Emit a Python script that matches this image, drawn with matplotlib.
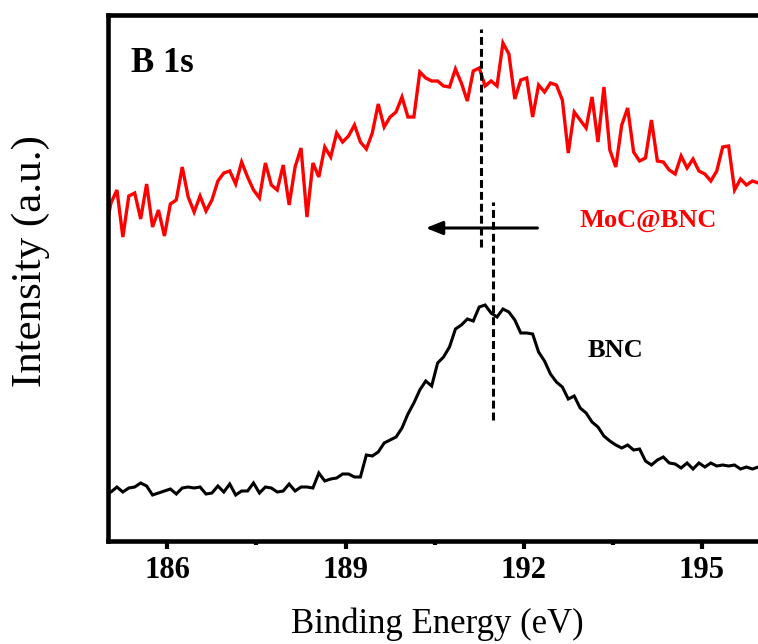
import numpy as np
import matplotlib
matplotlib.use("Agg")
import matplotlib.pyplot as plt

# ---- data ----
energy_start = 184.95
energy_step = 0.1

moc_bnc = [308, 338, 351, 304, 345, 348, 322, 357, 314, 331,
           305, 337, 341, 374, 344, 329, 345, 330, 341, 360,
           368, 370, 357, 379, 364, 351, 343, 378, 356, 351,
           376, 336, 374, 393, 324, 378, 364, 394, 384, 408,
           399, 405, 416, 399, 392, 408, 437, 414, 424, 429,
           444, 424, 424, 469, 463, 460, 460, 455, 454, 472,
           458, 440, 470, 473, 455, 460, 455, 498, 487, 442,
           461, 463, 424, 456, 449, 458, 456, 441, 388, 429,
           421, 413, 444, 399, 454, 391, 374, 416, 433, 389,
           380, 383, 421, 380, 379, 371, 367, 385, 373, 382,
           370, 367, 360, 370, 394, 395, 351, 362, 356, 360,
           358]

bnc = [48, 49, 54, 49, 53, 54, 58, 55, 46, 48,
       50, 52, 47, 53, 54, 53, 54, 47, 48, 55,
       49, 57, 46, 50, 50, 58, 48, 54, 53, 49,
       50, 57, 50, 54, 54, 53, 68, 60, 62, 63,
       67, 67, 64, 64, 86, 85, 89, 98, 101, 104,
       113, 127, 138, 151, 160, 155, 178, 184, 194, 212,
       216, 222, 220, 234, 236, 228, 224, 232, 229, 221,
       208, 208, 207, 189, 180, 167, 159, 154, 142, 145,
       133, 128, 119, 114, 105, 100, 96, 93, 96, 91,
       92, 80, 76, 81, 84, 78, 77, 73, 78, 72,
       78, 74, 78, 75, 76, 75, 76, 72, 74, 72,
       74]

xticks = [186, 189, 192, 195]
peak_moc = 191.28
peak_bnc = 191.48

x_moc = energy_start + energy_step * np.arange(len(moc_bnc))
x_bnc = energy_start + energy_step * np.arange(len(bnc))

plt.rcParams['font.family'] = ['Liberation Serif', 'DejaVu Serif']

W, H = 758, 644
fig = plt.figure(figsize=(W / 100, H / 100), dpi=100)
ax = fig.add_axes([108 / W, (H - 541) / H, (761.3 - 108) / W, (541 - 15) / H])

ax.plot(x_moc, moc_bnc, color='#ff0000', lw=2.4, solid_joinstyle='miter')
ax.plot(x_bnc, bnc, color='black', lw=2.2, solid_joinstyle='miter')

ax.plot([peak_moc, peak_moc], [294, 512], color='black', lw=2.2,
        linestyle=(0, (2.6, 1.3)))
ax.plot([peak_bnc, peak_bnc], [121, 339], color='black', lw=2.2,
        linestyle=(0, (2.6, 1.3)))
ax.annotate('', xy=(190.35, 313), xytext=(192.23, 313),
            arrowprops=dict(arrowstyle='-|>,head_length=1.0,head_width=0.4',
                            color='black', lw=2.2, shrinkA=0, shrinkB=0))

ax.text(185.39, 469, 'B 1s', fontsize=25, fontweight='bold', ha='left', va='baseline')
ax.text(194.09, 314, 'MoC@BNC', fontsize=19, fontweight='bold', color='#ff0000',
        ha='center', va='baseline')
ax.text(193.55, 184, 'BNC', fontsize=19, fontweight='bold', color='black',
        ha='center', va='baseline')

ax.set_xlim(185, 196)
ax.set_ylim(0, 526)
ax.set_xticks(xticks)
ax.set_xticks(np.arange(187.5, 196, 3), minor=True)
ax.set_yticks([])
for lab in ax.get_xticklabels():
    lab.set_fontweight('bold')
ax.tick_params(axis='x', which='major', direction='out', length=6, width=3,
               labelsize=22, pad=5)
ax.tick_params(axis='x', which='minor', direction='out', length=3, width=3)
for s in ['left', 'bottom', 'top']:
    ax.spines[s].set_linewidth(3.3)
ax.spines['right'].set_visible(False)

fig.text(437 / W, (H - 633) / H, 'Binding Energy (eV)', fontsize=25,
         ha='center', va='baseline')
fig.text(31 / W, (H - 261) / H, 'Intensity (a.u.)', fontsize=31,
         ha='center', va='center', rotation=90)

fig.savefig('out.png', dpi=100)
